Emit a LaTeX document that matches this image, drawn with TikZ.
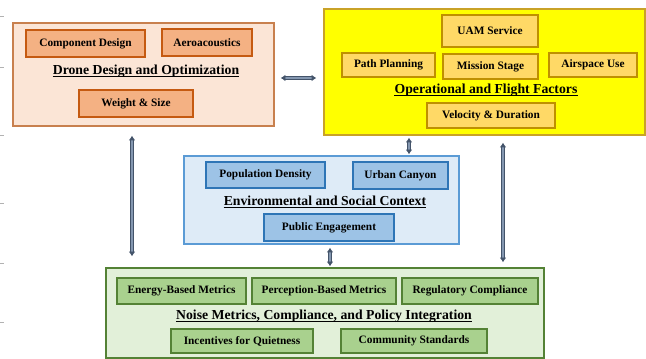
\documentclass[tikz,border=0pt]{standalone}
\usepackage{fontspec}
\setmainfont{Liberation Serif}
\usetikzlibrary{arrows.meta,calc}
\definecolor{bAf}{HTML}{FBE5D6}\definecolor{bAd}{HTML}{C8804E}
\definecolor{iAf}{HTML}{F4B183}\definecolor{iAd}{HTML}{C55A11}
\definecolor{bBf}{HTML}{FFFF00}\definecolor{bBd}{HTML}{C9A227}
\definecolor{iBf}{HTML}{FFD966}\definecolor{iBd}{HTML}{BF9000}
\definecolor{bCf}{HTML}{DEEBF7}\definecolor{bCd}{HTML}{5B9BD5}
\definecolor{iCf}{HTML}{9DC3E6}\definecolor{iCd}{HTML}{2E75B6}
\definecolor{bDf}{HTML}{E2F0D9}\definecolor{bDd}{HTML}{548235}
\definecolor{iDf}{HTML}{A9D18E}\definecolor{iDd}{HTML}{548235}
\definecolor{arrdark}{HTML}{44546A}\definecolor{arrlight}{HTML}{8497B0}
% \rbx{style}{x1}{y1}{x2}{y2}{name}{text}
\newcommand\rbx[7]{%
  \node[#1, minimum width={(#4-#2)*0.75pt}, minimum height={(#5-#3)*0.75pt}]
    (#6) at ({(#2+#4)/2},{(#3+#5)/2}) {#7};}
\begin{document}
\begin{tikzpicture}[x=0.75pt,y=-0.75pt,
  outer/.style={draw, line width=1.1pt, inner sep=0pt},
  inbox/.style={draw, line width=0.9pt, inner sep=0pt, font=\fontsize{8.5}{10}\selectfont\bfseries, align=center},
  iA/.style={inbox, draw=iAd, fill=iAf},
  iB/.style={inbox, draw=iBd, fill=iBf},
  iC/.style={inbox, draw=iCd, fill=iCf},
  iD/.style={inbox, draw=iDd, fill=iDf},
  ttl/.style={font=\fontsize{10.3}{12}\selectfont\bfseries, inner sep=0pt},
  ul/.style={draw=black, line width=0.6pt},
  arr/.style={draw=arrdark, line width=0.6pt, double=arrlight, double distance=1.1pt,
    {Latex[length=3.5pt,width=5pt]}-{Latex[length=3.5pt,width=5pt]}},
  tick/.style={draw=gray!60, line width=0.6pt}]
\useasboundingbox (0,0) rectangle (646,359);
% margin ticks
\foreach \yy in {16,67,135,203,263,322} \draw[tick] (0,\yy) -- (4,\yy);
% Box A
\rbx{outer, draw=bAd, fill=bAf}{13}{23}{274}{126}{bA}{}
\rbx{iA}{26}{30}{145}{57}{cd}{Component Design}
\rbx{iA}{162}{29}{252}{56}{aa}{Aeroacoustics}
\node[ttl] (tA) at (146,71) {Drone Design and Optimization};
\rbx{iA}{79}{90}{193}{117}{ws}{Weight \& Size}
% Box B
\rbx{outer, draw=bBd, fill=bBf}{324}{9}{645}{135}{bB}{}
\rbx{iB}{442}{15}{538}{47}{uam}{UAM Service}
\rbx{iB}{342}{53}{435}{77}{pp}{Path Planning}
\rbx{iB}{443}{54}{538}{79}{ms}{Mission Stage}
\rbx{iB}{549}{53}{637}{77}{au}{Airspace Use}
\node[ttl] (tB) at (486,90) {Operational and Flight Factors};
\rbx{iB}{427}{103}{555}{128}{vd}{Velocity \& Duration}
% Box C
\rbx{outer, draw=bCd, fill=bCf}{184}{156}{459}{244}{bC}{}
\rbx{iC}{206}{162}{325}{188}{pd}{Population Density}
\rbx{iC}{353}{162}{448}{189}{uc}{Urban Canyon}
\node[ttl] (tC) at (325,201) {Environmental and Social Context};
\rbx{iC}{264}{214}{394}{241}{pe}{Public Engagement}
% Box D
\rbx{outer, draw=bDd, fill=bDf}{106}{268}{544}{358}{bD}{}
\rbx{iD}{117}{278}{246}{304}{eb}{Energy-Based Metrics}
\rbx{iD}{252}{278}{396}{304}{pb}{Perception-Based Metrics}
\rbx{iD}{402}{278}{538}{304}{rc}{Regulatory Compliance}
\node[ttl] (tD) at (324,316) {Noise Metrics, Compliance, and Policy Integration};
\rbx{iD}{171}{329}{313}{353}{iq}{Incentives for Quietness}
\rbx{iD}{341}{329}{487}{353}{cs}{Community Standards}
% underlines
\foreach \t in {tA,tB,tC,tD}
  \draw[ul] ([yshift=-1.6pt]\t.base west) -- ([yshift=-1.6pt]\t.base east);
% arrows
\coordinate (yh) at (0,78);
\coordinate (xl) at (132,0);
\coordinate (xm) at (409,0);
\coordinate (xr) at (503,0);
\coordinate (xb) at (330,0);
\draw[arr, shorten <=4.5pt, shorten >=5.25pt] (bA.east |- yh) -- (bB.west |- yh);
\draw[arr, shorten <=6.75pt, shorten >=8.25pt] (bA.south -| xl) -- (bD.north -| xl);
\draw[arr, shorten <=1.5pt, shorten >=0.75pt] (bB.south -| xm) -- (bC.north -| xm);
\draw[arr, shorten <=5.25pt, shorten >=3.75pt] (bB.south -| xr) -- (bD.north -| xr);
\draw[arr, shorten <=2.25pt, shorten >=0.75pt] (bC.south -| xb) -- (bD.north -| xb);
\end{tikzpicture}
\end{document}
